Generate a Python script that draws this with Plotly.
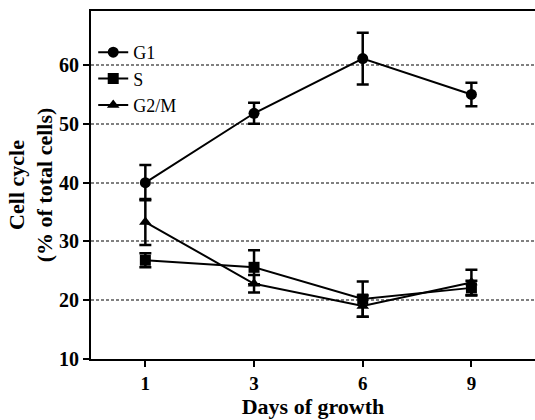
import plotly.graph_objects as go

days = ["1", "3", "6", "9"]
g1 = [40.0, 51.8, 61.1, 55.0]
g1_err = [3.0, 1.8, 4.4, 2.0]
s = [26.8, 25.6, 20.2, 22.1]
s_err = [1.2, 2.9, 3.0, 1.2]
g2m = [33.3, 22.8, 19.0, 23.0]
g2m_err = [3.9, 1.5, 1.8, 2.2]
y_ticks = [10, 20, 30, 40, 50, 60]

FONT = "Liberation Serif"

fig = go.Figure()

def add(name, y, err, symbol):
    fig.add_trace(go.Scatter(
        x=days, y=y, name=name, mode="lines+markers",
        line=dict(color="black", width=2),
        marker=dict(symbol=symbol, size=11, color="black"),
        error_y=dict(type="data", array=err, visible=True, color="black",
                     thickness=2.5, width=6),
    ))

add("G1", g1, g1_err, "circle")
add("S", s, s_err, "square")
add("G2/M", g2m, g2m_err, "triangle-up")

fig.update_layout(
    width=535, height=420,
    margin=dict(l=91, r=0, t=11, b=61),
    paper_bgcolor="white", plot_bgcolor="white",
    font=dict(family=FONT, color="black"),
    showlegend=True,
    legend=dict(x=0.005, y=0.934, xanchor="left", yanchor="top",
                font=dict(family=FONT, size=18, color="black"),
                bgcolor="rgba(0,0,0,0)", tracegroupgap=0, itemwidth=30),
)

fig.update_xaxes(
    type="category", range=[-0.5, 3.585],
    tickvals=days, ticktext=[f"<b>{d}</b>" for d in days],
    showline=True, linecolor="black", linewidth=2, mirror=True,
    ticks="outside", ticklen=6, tickwidth=2, tickcolor="black",
    tickfont=dict(family=FONT, size=19, color="black"),
    showgrid=False, zeroline=False,
    title=dict(text="<b>Days of growth</b>", font=dict(family=FONT, size=22), standoff=0),
)

fig.update_yaxes(
    range=[10, 69.2], tickvals=y_ticks, ticktext=[f"<b>{v}</b>" for v in y_ticks],
    showline=True, linecolor="black", linewidth=2, mirror=False,
    ticks="outside", ticklen=6, tickwidth=2, tickcolor="black",
    tickfont=dict(family=FONT, size=20, color="black"),
    showgrid=True, gridcolor="#808080", gridwidth=1.5, griddash="3px,2px",
    zeroline=False,
    title=dict(text="<b>Cell cycle<br>(% of total cells)</b>", font=dict(family=FONT, size=22), standoff=0),
)

fig.write_html("out.html")
